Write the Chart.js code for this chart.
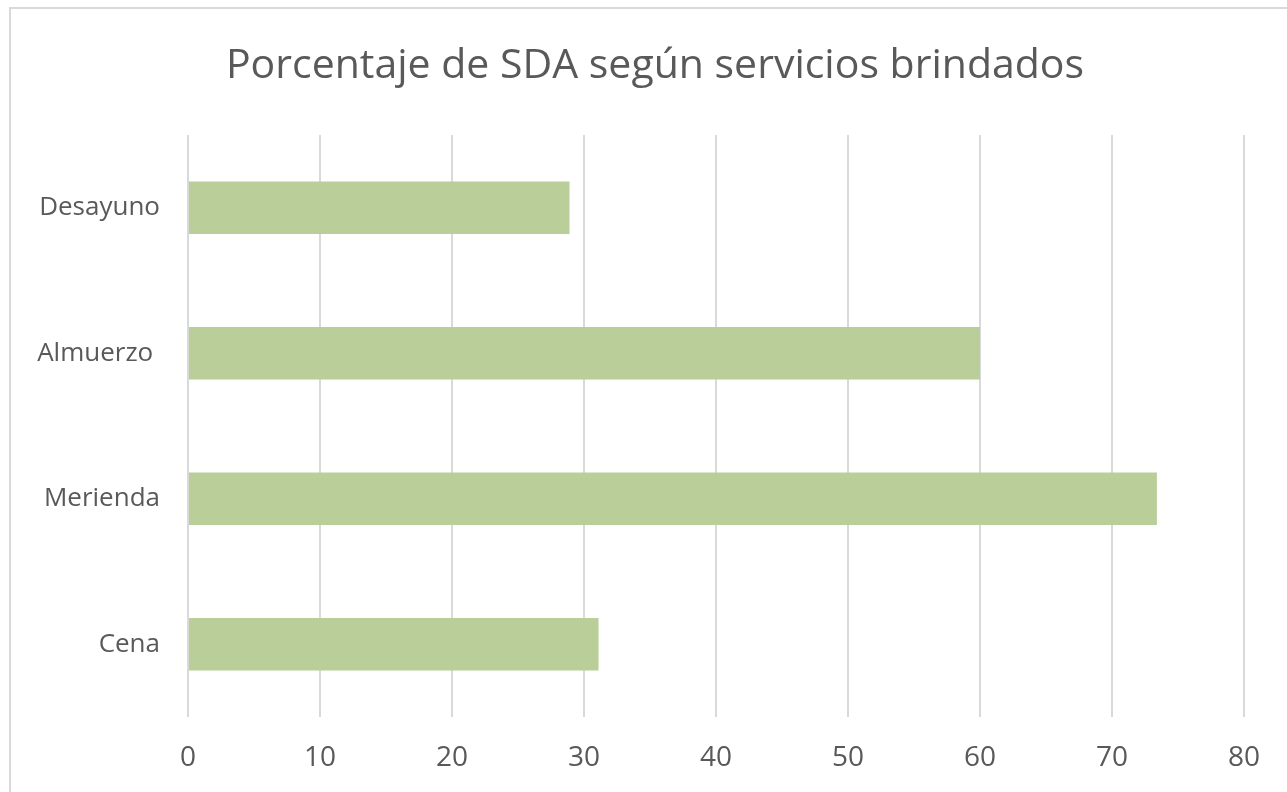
<!DOCTYPE html>
<html>
<head>
<meta charset="utf-8">
<script src="https://cdn.jsdelivr.net/npm/chart.js@4.4.1/dist/chart.umd.min.js"></script>
<style>
  html, body { margin: 0; padding: 0; background: #fff; overflow: hidden; }
  #frame { position: absolute; left: 9px; top: 7px; width: 1300px; height: 800px; border: 2px solid #d9d9d9; }
  #wrap { position: absolute; left: 0; top: 0; width: 1310px; height: 792px; }
</style>
</head>
<body>
<div id="frame"></div>
<div id="wrap"><canvas id="myChart"></canvas></div>
<script>
// datos
const categorias = ['Desayuno', 'Almuerzo ', 'Merienda', 'Cena'];
const porcentajes = [28.9, 60.0, 73.4, 31.1];
const titulo = 'Porcentaje de SDA según servicios brindados';

const textColor = '#595959';
const fontFamily = '"Open Sans", Lato, sans-serif';

// el título ocupa todo el ancho (el original está centrado en el marco, no en el área del gráfico)
const tituloAncho = {
  id: 'tituloAncho',
  afterLayout(chart) {
    if (chart.titleBlock) {
      chart.titleBlock.left = 0;
      chart.titleBlock.right = chart.width;
    }
  }
};

const ctx = document.getElementById('myChart').getContext('2d');

new Chart(ctx, {
  type: 'bar',
  data: {
    labels: categorias,
    datasets: [{
      label: 'SDA',
      data: porcentajes,
      backgroundColor: '#b9ce98',
      borderWidth: 0,
      categoryPercentage: 1,
      barPercentage: 0.36
    }]
  },
  plugins: [tituloAncho],
  options: {
    indexAxis: 'y',
    responsive: true,
    maintainAspectRatio: false,
    animation: false,
    layout: { padding: { top: 0, left: 0, right: 66, bottom: 0 } },
    plugins: {
      legend: { display: false },
      tooltip: { enabled: false },
      title: {
        display: true,
        text: titulo,
        color: textColor,
        font: { family: fontFamily, size: 41, weight: 'normal', lineHeight: 1.2 },
        padding: { top: 42, bottom: 43.8 }
      }
    },
    scales: {
      x: {
        min: 0,
        max: 80,
        ticks: {
          stepSize: 10,
          color: textColor,
          padding: 24,
          font: { family: fontFamily, size: 28 }
        },
        grid: { color: '#d9d9d9', lineWidth: 2, drawTicks: false },
        border: { display: false },
        afterFit: function(scale) { scale.height = 75; }
      },
      y: {
        ticks: {
          color: textColor,
          padding: 28,
          font: { family: fontFamily, size: 26 }
        },
        grid: { display: false, drawTicks: false },
        border: { display: false },
        afterFit: function(scale) { scale.width = 188; }
      }
    }
  }
});
</script>
</body>
</html>
